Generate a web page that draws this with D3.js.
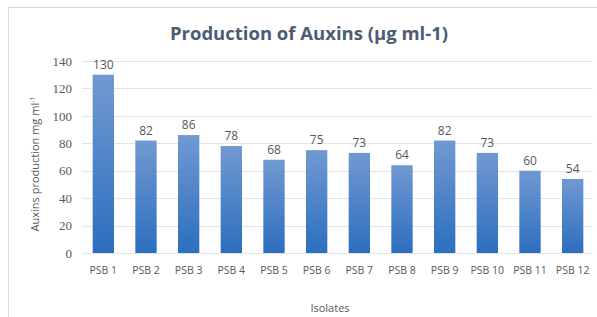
<!DOCTYPE html>
<html lang="en">
<head>
  <meta charset="UTF-8">
  <title>Production of Auxins</title>
  <script src="https://d3js.org/d3.v7.min.js"></script>
  <style>
    body { margin: 0; background: #fff; }
    svg { display: block; }
  </style>
</head>
<body>
  <div id="viz"></div>
  <script>
    // Data
    const isolates = ['PSB 1', 'PSB 2', 'PSB 3', 'PSB 4', 'PSB 5', 'PSB 6',
                      'PSB 7', 'PSB 8', 'PSB 9', 'PSB 10', 'PSB 11', 'PSB 12'];
    const auxins = [130, 82, 86, 78, 68, 75, 73, 64, 82, 73, 60, 54];
    const yTicks = [0, 20, 40, 60, 80, 100, 120, 140];

    const width = 597, height = 317;
    const margin = {top: 61, right: 3, bottom: 64, left: 82};

    const svg = d3.select('#viz').append('svg')
      .attr('width', width)
      .attr('height', height);

    // chart border (runs off the right/bottom edge)
    svg.append('rect')
      .attr('x', 8.5).attr('y', 7.5)
      .attr('width', width + 10).attr('height', height + 10)
      .attr('fill', 'none').attr('stroke', '#dadada');

    const grad = svg.append('defs').append('linearGradient')
      .attr('id', 'barGrad').attr('x1', 0).attr('y1', 0).attr('x2', 0).attr('y2', 1);
    grad.append('stop').attr('offset', '0%').attr('stop-color', '#7199d1');
    grad.append('stop').attr('offset', '100%').attr('stop-color', '#2c6ebf');

    const x = d3.scaleBand()
      .domain(isolates)
      .range([margin.left, width - margin.right])
      .paddingInner(0.5).paddingOuter(0.25);

    const y = d3.scaleLinear()
      .domain([0, 140])
      .range([height - margin.bottom, margin.top]);

    // gridlines
    svg.append('g')
      .selectAll('line')
      .data(yTicks)
      .join('line')
      .attr('x1', margin.left).attr('x2', width - margin.right - 1)
      .attr('y1', d => Math.round(y(d)) + 0.5).attr('y2', d => Math.round(y(d)) + 0.5)
      .attr('stroke', '#e4e4e4');

    // y axis labels
    const yAxis = svg.append('g')
      .attr('transform', `translate(${margin.left - 10},0)`)
      .call(d3.axisLeft(y).tickValues(yTicks).tickSize(0).tickPadding(0));
    yAxis.select('.domain').remove();
    yAxis.attr('font-family', null);
    yAxis.selectAll('text')
      .style('font-family', "'Liberation Serif', serif")
      .attr('font-size', 13)
      .attr('fill', '#595959');

    // x axis labels
    const xAxis = svg.append('g')
      .attr('transform', `translate(0,${height - margin.bottom})`)
      .call(d3.axisBottom(x).tickSize(0).tickPadding(14));
    xAxis.select('.domain').remove();
    xAxis.selectAll('text')
      .attr('font-family', 'Open Sans, sans-serif')
      .attr('font-size', 10.5)
      .attr('fill', '#595959');

    // bars
    svg.append('g')
      .selectAll('rect')
      .data(auxins)
      .join('rect')
      .attr('x', (d, i) => x(isolates[i]))
      .attr('y', d => y(d))
      .attr('width', x.bandwidth())
      .attr('height', d => y(0) - y(d))
      .attr('fill', 'url(#barGrad)');

    // value labels
    svg.append('g')
      .selectAll('text')
      .data(auxins)
      .join('text')
      .attr('x', (d, i) => x(isolates[i]) + x.bandwidth() / 2)
      .attr('y', d => y(d) - 6)
      .attr('text-anchor', 'middle')
      .attr('font-family', 'Open Sans, sans-serif')
      .attr('font-size', 12)
      .attr('fill', '#595959')
      .text(d => d);

    // title
    svg.append('text')
      .attr('x', 309).attr('y', 40)
      .attr('text-anchor', 'middle')
      .attr('font-family', 'Open Sans, sans-serif')
      .attr('font-weight', 700)
      .attr('font-size', 18.5)
      .attr('fill', '#4b5d73')
      .text('Production of Auxins (µg ml-1)');

    // y axis title
    const yt = svg.append('text')
      .attr('transform', 'translate(39,164) rotate(-90)')
      .attr('text-anchor', 'middle')
      .attr('font-family', 'Open Sans, sans-serif')
      .attr('font-size', 11)
      .attr('fill', '#595959');
    yt.append('tspan').text('Auxins production mg ml');
    yt.append('tspan').attr('dy', -4).attr('font-size', 7).text('-1');

    // x axis title
    svg.append('text')
      .attr('x', 330).attr('y', 312)
      .attr('text-anchor', 'middle')
      .attr('font-family', 'Open Sans, sans-serif')
      .attr('font-size', 11)
      .attr('fill', '#595959')
      .text('Isolates');
  </script>
</body>
</html>
